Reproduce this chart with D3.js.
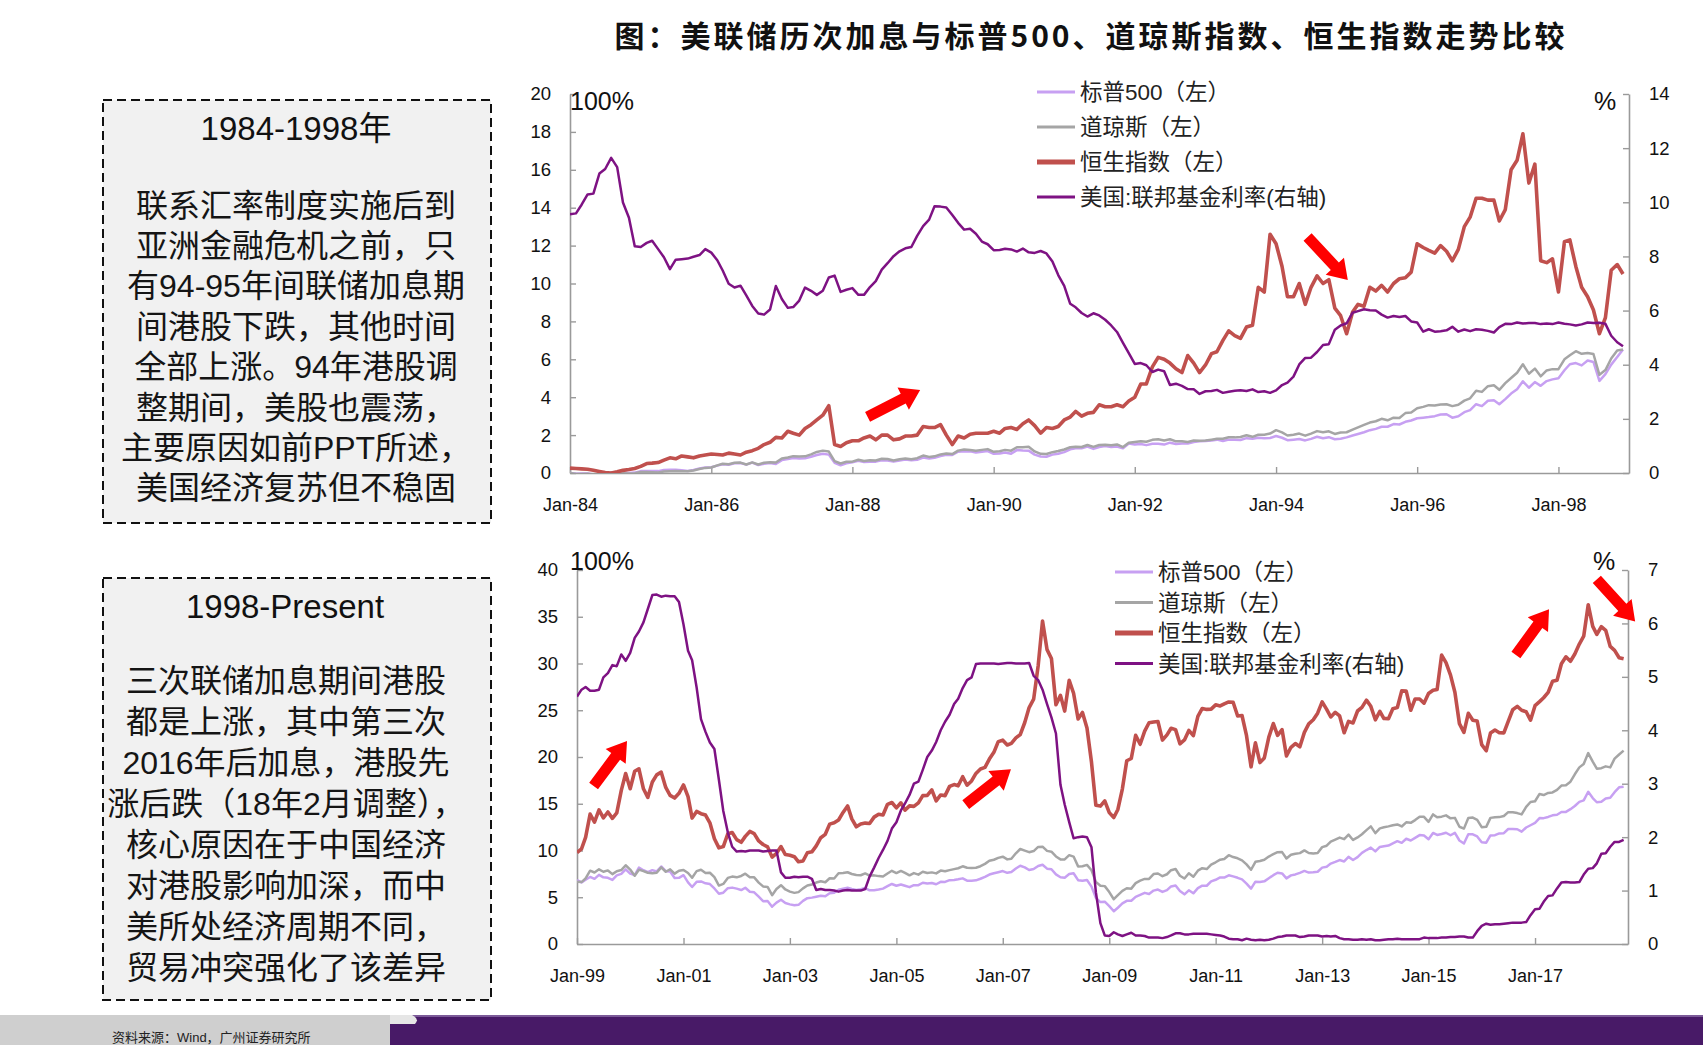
<!DOCTYPE html>
<html><head><meta charset="utf-8">
<script src="https://cdn.jsdelivr.net/npm/d3@7"></script>
<style>body{margin:0;background:#fff}svg{display:block}</style>
</head><body>
<svg id="c" width="1703" height="1045"></svg>
<script>
// ---------------- DATA ----------------
const chartTitle = "图：美联储历次加息与标普500、道琼斯指数、恒生指数走势比较";
const seriesNames = ["标普500（左）", "道琼斯（左）", "恒生指数（左）", "美国:联邦基金利率(右轴)"];
const unitLeft = "100%";
const unitRight = "%";

const topStart = "1984-01", topEnd = "1999-01";
const botStart = "1999-01", botEnd = "2018-10";

const topXLabels = ["Jan-84","Jan-86","Jan-88","Jan-90","Jan-92","Jan-94","Jan-96","Jan-98"];
const botXLabels = ["Jan-99","Jan-01","Jan-03","Jan-05","Jan-07","Jan-09","Jan-11","Jan-13","Jan-15","Jan-17"];
const topLeftTicks = [0,2,4,6,8,10,12,14,16,18,20];
const topRightTicks = [0,2,4,6,8,10,12,14];
const botLeftTicks = [0,5,10,15,20,25,30,35,40];
const botRightTicks = [0,1,2,3,4,5,6,7];

// 1984-01 .. 1998-12 monthly
const topSP = [
0,-0.04,-0.03,-0.02,-0.08,-0.06,-0.08,0.02,0.02,0.02,0.00,0.02,
0.10,0.11,0.11,0.10,0.16,0.17,0.17,0.15,0.11,0.16,0.24,0.29,
0.30,0.39,0.46,0.44,0.51,0.53,0.44,0.55,0.42,0.49,0.53,0.48,
0.68,0.74,0.79,0.76,0.78,0.86,0.95,1.02,0.97,0.54,0.41,0.51,
0.57,0.64,0.58,0.60,0.60,0.67,0.66,0.60,0.66,0.71,0.67,0.70,
0.82,0.77,0.80,0.89,0.96,0.95,1.12,1.15,1.14,1.08,1.12,1.16,
1.01,1.03,1.08,1.02,1.21,1.19,1.18,0.97,0.87,0.86,0.97,1.02,
1.10,1.25,1.30,1.30,1.39,1.27,1.37,1.42,1.37,1.40,1.30,1.55,
1.50,1.53,1.47,1.54,1.54,1.50,1.60,1.53,1.56,1.56,1.64,1.67,
1.69,1.71,1.76,1.69,1.76,1.76,1.74,1.84,1.81,1.86,1.83,1.85,
1.95,1.86,1.73,1.76,1.79,1.72,1.80,1.91,1.83,1.89,1.78,1.81,
1.88,1.98,2.06,2.15,2.26,2.33,2.44,2.44,2.58,2.56,2.70,2.77,
2.89,2.92,2.95,3.00,3.09,3.10,2.92,2.99,3.21,3.32,3.63,3.53,
3.81,3.84,3.63,3.90,4.19,4.42,4.84,4.50,4.80,4.60,4.85,4.94,
5.00,5.42,5.74,5.80,5.68,5.94,5.86,4.86,5.22,5.72,6.12,6.52];
const topDJ = [
0.00,-0.05,-0.05,-0.04,-0.09,-0.07,-0.09,0.00,-0.01,-0.01,-0.03,-0.01,
0.05,0.05,0.04,0.03,0.08,0.09,0.10,0.09,0.09,0.13,0.21,0.27,
0.29,0.40,0.49,0.46,0.54,0.55,0.45,0.56,0.45,0.54,0.57,0.55,
0.77,0.82,0.89,0.87,0.88,0.98,1.11,1.18,1.13,0.63,0.50,0.59,
0.60,0.70,0.63,0.67,0.66,0.75,0.74,0.66,0.73,0.76,0.73,0.78,
0.92,0.85,0.88,0.98,1.03,1.00,1.18,1.24,1.21,1.17,1.22,1.26,
1.12,1.15,1.22,1.18,1.36,1.36,1.38,1.14,1.01,1.00,1.10,1.16,
1.24,1.36,1.39,1.37,1.48,1.38,1.48,1.49,1.47,1.51,1.37,1.60,
1.64,1.68,1.65,1.75,1.78,1.72,1.78,1.67,1.68,1.64,1.71,1.70,
1.71,1.76,1.81,1.81,1.89,1.88,1.90,1.99,1.91,2.02,2.02,2.08,
2.26,2.14,1.98,2.02,2.08,1.97,2.08,2.21,2.15,2.20,2.06,2.14,
2.15,2.29,2.41,2.54,2.66,2.73,2.86,2.78,2.92,2.90,3.16,3.19,
3.42,3.49,3.58,3.56,3.62,3.63,3.53,3.60,3.82,3.94,4.34,4.28,
4.58,4.63,4.39,4.74,5.01,5.29,5.74,5.24,5.51,5.10,5.41,5.48,
5.48,6.00,6.21,6.43,6.29,6.33,6.28,5.18,5.43,6.04,6.47,6.52];
const topHSI = [
0.26,0.24,0.22,0.20,0.14,0.08,0.02,0.00,0.06,0.14,0.18,0.24,
0.35,0.50,0.52,0.55,0.68,0.80,0.75,0.90,0.85,0.80,0.90,0.95,
1.00,0.98,0.95,1.05,1.00,0.95,1.10,1.18,1.30,1.50,1.62,1.88,
1.85,2.20,2.10,2.00,2.35,2.55,2.80,3.05,3.55,1.50,1.40,1.60,
1.70,1.70,1.85,1.95,1.75,2.00,2.00,1.75,1.80,1.95,1.95,2.00,
2.45,2.40,2.40,2.55,2.00,1.50,1.95,1.85,2.05,2.10,2.10,2.10,
2.20,2.10,2.35,2.40,2.30,2.60,2.80,2.50,2.10,2.40,2.35,2.45,
2.80,2.95,3.25,3.00,3.15,3.20,3.60,3.50,3.50,3.60,3.50,3.80,
4.00,4.70,4.70,5.60,6.10,6.00,5.80,5.50,5.30,6.20,5.80,5.30,
5.70,6.30,6.40,7.00,7.50,7.25,7.10,7.70,7.80,9.80,9.55,12.60,
12.10,10.90,9.30,9.30,10.00,8.90,9.80,10.40,10.00,10.20,8.70,8.30,
7.35,8.50,8.90,8.80,9.80,9.60,9.90,9.55,10.00,10.25,10.30,10.60,
12.10,11.90,11.75,11.60,12.00,11.70,11.20,11.80,13.00,13.50,14.50,14.50,
14.40,14.40,13.30,13.90,16.00,16.50,17.90,15.30,16.30,11.20,11.10,11.30,
9.55,12.20,12.30,10.90,9.80,9.30,8.60,7.35,8.20,10.70,11.00,10.50];
const topFed = [
9.56,9.59,9.91,10.29,10.32,11.06,11.23,11.64,11.30,9.99,9.43,8.38,
8.35,8.50,8.58,8.27,7.97,7.53,7.88,7.90,7.92,7.99,8.05,8.27,
8.14,7.86,7.48,6.99,6.85,6.92,6.56,6.17,5.89,5.85,6.04,6.91,
6.43,6.10,6.13,6.37,6.85,6.73,6.58,6.73,7.22,7.29,6.69,6.77,
6.83,6.58,6.58,6.87,7.09,7.51,7.75,8.01,8.19,8.30,8.35,8.76,
9.12,9.36,9.85,9.84,9.81,9.53,9.24,8.99,9.02,8.84,8.55,8.45,
8.23,8.24,8.28,8.26,8.18,8.29,8.15,8.13,8.20,8.11,7.81,7.31,
6.91,6.25,6.12,5.91,5.78,5.90,5.82,5.66,5.45,5.21,4.81,4.43,
4.03,4.06,3.98,3.73,3.82,3.76,3.25,3.30,3.22,3.10,3.09,2.92,
3.02,3.03,3.07,2.96,3.00,3.04,3.06,3.03,3.09,2.99,3.02,2.96,
3.05,3.25,3.34,3.56,4.01,4.25,4.26,4.47,4.73,4.76,5.29,5.45,
5.53,5.92,5.98,6.05,6.01,6.00,5.85,5.74,5.80,5.76,5.80,5.60,
5.56,5.22,5.31,5.22,5.24,5.27,5.40,5.22,5.30,5.24,5.31,5.29,
5.25,5.19,5.39,5.51,5.50,5.56,5.52,5.54,5.54,5.50,5.52,5.50,
5.56,5.51,5.49,5.45,5.49,5.56,5.54,5.55,5.51,5.07,4.83,4.68];

// 1999-01 .. 2018-09 monthly
const botSP = [
6.83,6.58,6.87,7.17,6.97,7.40,7.13,7.08,6.85,7.34,7.50,7.99,
7.53,7.36,8.17,7.89,7.69,7.90,7.76,8.29,7.79,7.75,7.05,7.08,
7.36,6.59,6.10,6.65,6.69,6.49,6.41,5.94,5.37,5.49,5.97,6.03,
5.92,5.77,6.02,5.59,5.53,5.06,4.58,4.61,3.99,4.42,4.73,4.38,
4.24,4.15,4.19,4.61,4.90,4.96,5.06,5.17,5.10,5.43,5.48,5.80,
5.92,6.01,5.89,5.78,5.86,5.98,5.74,5.76,5.82,5.92,6.18,6.42,
6.23,6.37,6.23,6.08,6.29,6.29,6.55,6.47,6.52,6.39,6.65,6.64,
6.83,6.84,6.92,7.02,6.77,6.77,6.81,6.98,7.18,7.43,7.57,7.68,
7.80,7.61,7.70,8.07,8.37,8.20,7.91,8.02,8.34,8.48,8.06,7.99,
7.44,7.14,7.09,7.48,7.57,6.83,6.76,6.85,6.14,4.93,4.48,4.53,
4.05,3.50,3.88,4.34,4.62,4.63,5.04,5.25,5.47,5.34,5.71,5.82,
5.57,5.76,6.16,6.26,5.67,5.31,5.74,5.42,5.98,6.24,6.23,6.70,
6.87,7.12,7.11,7.35,7.23,7.08,6.91,6.46,5.92,6.67,6.63,6.70,
7.03,7.36,7.62,7.55,7.02,7.34,7.44,7.61,7.82,7.64,7.67,7.73,
8.17,8.27,8.60,8.78,8.98,8.83,9.32,8.99,9.29,9.75,10.05,10.31,
9.91,10.38,10.46,10.53,10.77,11.00,10.82,11.26,11.07,11.35,11.65,11.60,
11.21,11.88,11.66,11.76,11.90,11.63,11.88,11.07,10.75,11.73,11.73,11.51,
10.87,10.83,11.61,11.64,11.83,11.85,12.30,12.29,12.27,12.01,12.46,12.70,
12.95,13.47,13.46,13.59,13.76,13.83,14.12,14.13,14.42,14.76,15.20,15.36,
16.28,15.61,15.16,15.21,15.56,15.64,16.24,16.76,16.83];
const botDJ = [
6.67,6.62,7.02,7.84,7.65,7.99,7.73,7.87,7.47,7.79,7.91,8.42,
7.96,7.30,7.95,7.79,7.62,7.56,7.62,8.19,7.73,7.99,7.53,7.84,
7.92,7.60,7.09,7.79,7.94,7.60,7.62,7.15,6.25,6.43,7.07,7.21,
7.13,7.28,7.52,7.15,7.13,6.57,6.16,6.10,5.22,5.88,6.29,5.83,
5.60,5.47,5.55,5.95,6.25,6.36,6.57,6.71,6.60,7.03,7.01,7.56,
7.59,7.67,7.49,7.38,7.35,7.55,7.31,7.34,7.26,7.22,7.54,7.83,
7.59,7.82,7.61,7.35,7.58,7.42,7.72,7.59,7.66,7.55,7.85,7.78,
7.90,8.01,8.10,8.31,8.15,8.14,8.16,8.32,8.57,8.90,9.01,9.21,
9.34,9.05,9.12,9.70,10.16,9.99,9.82,9.94,10.38,10.41,9.96,9.87,
9.36,9.05,9.05,9.50,9.35,8.30,8.32,8.46,7.89,6.64,6.23,6.19,
5.55,4.79,5.23,5.69,5.96,5.92,6.51,6.78,6.96,6.96,7.48,7.54,
7.25,7.46,7.89,8.02,7.30,7.01,7.57,7.20,7.84,8.11,8.02,8.49,
8.74,9.02,9.09,9.50,9.30,9.17,8.95,8.51,7.94,8.79,8.87,9.01,
9.35,9.61,9.82,9.83,9.15,9.55,9.66,9.72,10.01,9.73,9.67,9.74,
10.36,10.51,10.94,11.16,11.38,11.21,11.70,11.13,11.40,11.74,12.18,12.58,
11.86,12.37,12.48,12.58,12.70,12.79,12.57,13.01,12.96,13.25,13.61,13.60,
13.06,13.86,13.56,13.62,13.76,13.44,13.49,12.54,12.34,13.47,13.52,13.28,
12.49,12.53,13.49,13.56,13.57,13.69,14.10,14.08,14.00,13.86,14.67,15.19,
15.27,16.05,15.93,16.16,16.21,16.49,16.94,16.98,17.36,18.15,18.89,19.25,
20.42,19.51,18.75,18.80,19.00,18.89,19.82,20.27,20.68];
const botHSI = [
9.78,10.18,11.41,13.89,13.04,14.34,13.48,14.12,13.44,14.03,16.43,18.23,
16.61,18.47,18.74,16.60,15.68,17.32,18.09,18.38,16.74,15.89,15.61,16.12,
17.01,15.77,13.47,14.18,13.94,13.79,12.96,11.26,10.28,10.42,11.79,11.92,
11.16,10.88,11.51,12.04,11.81,11.02,10.64,10.39,9.29,9.70,10.42,9.57,
9.50,9.34,8.79,8.88,9.76,9.86,10.49,11.37,11.73,12.82,12.96,13.26,
14.07,14.77,13.38,12.54,12.83,12.93,12.88,13.57,13.88,13.80,14.94,15.13,
14.56,15.10,14.32,14.77,14.72,15.10,15.87,15.90,16.49,15.31,15.94,15.87,
16.86,17.05,16.92,17.89,16.98,17.44,18.24,18.72,18.89,19.78,20.50,21.64,
21.80,21.28,21.45,22.04,22.40,23.69,25.29,26.19,29.77,34.55,31.48,30.53,
25.59,26.59,24.91,28.20,26.82,24.06,24.77,23.11,19.43,14.84,14.75,15.31,
14.05,13.53,14.39,16.60,19.60,19.84,22.33,21.36,22.76,23.66,23.74,23.80,
21.81,22.37,23.08,22.93,21.41,21.82,22.84,22.28,24.35,25.19,25.09,25.12,
25.58,25.46,25.68,25.89,25.85,24.39,24.44,22.28,18.95,21.52,19.40,19.90,
22.12,23.58,22.31,22.92,20.12,21.04,21.44,21.09,22.63,23.54,23.98,24.69,
25.90,25.10,24.28,24.78,24.39,22.59,23.81,23.64,24.92,25.31,26.08,25.42,
23.98,24.89,24.11,24.10,25.17,25.29,27.07,27.05,25.00,26.21,26.20,25.76,
26.79,27.14,27.23,30.90,30.09,28.76,26.93,23.57,22.63,24.67,23.94,23.85,
21.32,20.67,22.56,22.89,22.60,22.58,23.82,25.05,25.41,25.00,24.84,23.94,
25.49,25.92,26.34,26.91,28.09,28.21,29.98,30.71,30.24,31.02,32.08,32.92,
36.29,33.97,33.12,33.93,33.55,31.83,31.41,30.62,30.51];
const botFed = [
4.63,4.76,4.81,4.74,4.74,4.76,4.99,5.07,5.22,5.20,5.42,5.30,
5.45,5.73,5.85,6.02,6.27,6.53,6.54,6.50,6.52,6.51,6.51,6.40,
5.98,5.49,5.31,4.80,4.21,3.97,3.77,3.65,3.07,2.49,2.09,1.82,
1.73,1.74,1.73,1.75,1.75,1.75,1.73,1.74,1.75,1.75,1.34,1.24,
1.24,1.26,1.25,1.26,1.26,1.22,1.01,1.03,1.01,1.01,1.00,0.98,
1.00,1.01,1.00,1.00,1.00,1.03,1.26,1.43,1.61,1.76,1.93,2.16,
2.28,2.50,2.63,2.79,3.00,3.04,3.26,3.50,3.62,3.78,4.00,4.16,
4.29,4.49,4.59,4.79,4.94,4.99,5.24,5.25,5.25,5.25,5.25,5.24,
5.25,5.26,5.26,5.25,5.25,5.25,5.26,5.02,4.94,4.76,4.49,4.24,
3.94,2.98,2.61,2.28,1.98,2.00,2.01,2.00,1.81,0.97,0.39,0.16,
0.15,0.22,0.18,0.15,0.18,0.21,0.16,0.16,0.15,0.12,0.12,0.12,
0.11,0.13,0.16,0.20,0.20,0.18,0.18,0.19,0.19,0.19,0.19,0.18,
0.17,0.16,0.14,0.10,0.09,0.09,0.07,0.10,0.08,0.07,0.08,0.07,
0.08,0.10,0.13,0.14,0.16,0.16,0.16,0.13,0.14,0.16,0.16,0.16,
0.14,0.15,0.14,0.15,0.11,0.09,0.09,0.08,0.08,0.09,0.08,0.09,
0.07,0.07,0.08,0.09,0.09,0.10,0.09,0.09,0.09,0.09,0.09,0.12,
0.11,0.11,0.11,0.12,0.12,0.13,0.13,0.14,0.14,0.12,0.12,0.24,
0.34,0.38,0.36,0.37,0.37,0.38,0.39,0.40,0.40,0.40,0.41,0.54,
0.65,0.66,0.79,0.90,0.91,1.04,1.15,1.16,1.15,1.15,1.16,1.30,
1.41,1.42,1.51,1.69,1.70,1.82,1.91,1.91,1.95];

// annotation arrows in data units: [month index, left-axis value] tail -> head
const topArrows = [[50.6, 2.96, 59.5, 4.38], [125.4, 12.45, 132.2, 10.18]];
const botArrows = [[3.8, 16.9, 11.3, 21.7], [87.7, 14.9, 97.9, 18.7], [211.7, 30.9, 219.2, 35.8], [230, 39.0, 238.6, 34.5]];

const boxTopTitle = "1984-1998年";
const boxTopLines = ["联系汇率制度实施后到","亚洲金融危机之前，只","有94-95年间联储加息期","间港股下跌，其他时间","全部上涨。94年港股调","整期间，美股也震荡，","主要原因如前PPT所述，","美国经济复苏但不稳固"];
const boxBotTitle = "1998-Present";
const boxBotLines = ["三次联储加息期间港股","都是上涨，其中第三次","2016年后加息，港股先","涨后跌（18年2月调整），","核心原因在于中国经济","对港股影响加深，而中","美所处经济周期不同，","贸易冲突强化了该差异"];
const footerText = "资料来源：Wind，广州证券研究所";

// ---------------- DRAWING ----------------
const svg = d3.select("#c");
const LAT = "'Liberation Sans', Arial, 'Noto Sans CJK SC', sans-serif";
const CJK = "'Noto Sans CJK SC', sans-serif";
const colors = ["#c7a0f2", "#a5a5a5", "#c0504d", "#7e1283"];
const widths = [2.5, 2.5, 3.6, 2.5];
const parseYM = d3.timeParse("%Y-%m");
const parseLbl = d3.timeParse("%b-%y");

svg.append("rect").attr("width", 1703).attr("height", 1045).attr("fill", "#fff");

// title
svg.append("text").attr("x", 1091).attr("y", 47).attr("text-anchor", "middle")
  .attr("font-family", CJK).attr("font-weight", 700).attr("font-size", 30)
  .attr("letter-spacing", 3).attr("fill", "#111").text(chartTitle);

// text boxes
function drawBox(x, y, w, h, title, titleCx, titleCy, lines, cx, ly0, lstep) {
  const g = svg.append("g");
  g.append("rect").attr("x", x).attr("y", y).attr("width", w).attr("height", h)
    .attr("fill", "#f1f1f1").attr("stroke", "#111").attr("stroke-width", 2)
    .attr("stroke-dasharray", "9,5");
  g.append("text").attr("x", titleCx).attr("y", titleCy).attr("dy", "0.36em")
    .attr("text-anchor", "middle").attr("font-family", LAT).attr("font-size", 33)
    .attr("fill", "#111").text(title);
  lines.forEach((t, i) => {
    g.append("text").attr("x", cx).attr("y", ly0 + i * lstep).attr("dy", "0.36em")
      .attr("text-anchor", "middle").attr("font-family", LAT).attr("font-size", 32)
      .attr("fill", "#151515").text(t);
  });
}
drawBox(103, 100, 388, 423, boxTopTitle, 296, 128, boxTopLines, 296, 205, 40.4);
drawBox(103, 578, 388, 422, boxBotTitle, 285, 606, boxBotLines, 286, 680, 41.1);

function arrowPoly(tx, ty, hx, hy) {
  const dx = hx - tx, dy = hy - ty, L = Math.hypot(dx, dy);
  const ux = dx / L, uy = dy / L, nx = -uy, ny = ux;
  const w = 5.5, hw = 12.5, hl = 19;
  const bx = hx - ux * hl, by = hy - uy * hl;
  return [[tx + nx * w, ty + ny * w], [bx + nx * w, by + ny * w], [bx + nx * hw, by + ny * hw],
          [hx, hy], [bx - nx * hw, by - ny * hw], [bx - nx * w, by - ny * w], [tx - nx * w, ty - ny * w]];
}

function drawPanel(cfg) {
  const start = parseYM(cfg.start), end = parseYM(cfg.end);
  const x = d3.scaleTime().domain([start, end]).range([cfg.x0, cfg.x1]);
  const yL = d3.scaleLinear().domain([0, cfg.leftMax]).range([cfg.y1, cfg.y0]);
  const yR = d3.scaleLinear().domain([0, cfg.rightMax]).range([cfg.y1, cfg.y0]);
  const md = i => d3.timeMonth.offset(start, i);
  const mx = f => { const i = Math.floor(f); return x(md(i)) + (f - i) * (x(md(i + 1)) - x(md(i))); };
  const g = svg.append("g");
  const clipId = "clip" + cfg.id;
  svg.append("clipPath").attr("id", clipId).append("rect")
    .attr("x", cfg.x0).attr("y", cfg.y0 - 2).attr("width", cfg.x1 - cfg.x0 + 2).attr("height", cfg.y1 - cfg.y0 + 2);

  // axes
  const axisStyle = sel => {
    sel.select(".domain").attr("stroke", "#9a9a9a").attr("stroke-width", 1.6);
    sel.selectAll(".tick line").attr("stroke", "#9a9a9a").attr("stroke-width", 1.4);
    sel.selectAll(".tick text").attr("fill", "#111").attr("font-family", LAT).attr("font-size", 18.5);
  };
  const tickDates = cfg.xLabels.map(s => parseLbl(s));
  g.append("g").attr("transform", `translate(0,${cfg.y1})`)
    .call(d3.axisBottom(x).tickValues(tickDates).tickFormat((d, i) => cfg.xLabels[i])
      .tickSizeInner(-6).tickSizeOuter(0).tickPadding(25))
    .call(axisStyle).call(s => s.selectAll(".tick text").attr("font-size", 18));
  g.append("g").attr("transform", `translate(${cfg.x0},0)`)
    .call(d3.axisLeft(yL).tickValues(cfg.leftTicks).tickFormat(d3.format("d"))
      .tickSizeInner(-6).tickSizeOuter(0).tickPadding(19))
    .call(axisStyle);
  g.append("g").attr("transform", `translate(${cfg.x1},0)`)
    .call(d3.axisRight(yR).tickValues(cfg.rightTicks).tickFormat(d3.format("d"))
      .tickSizeInner(-6).tickSizeOuter(0).tickPadding(20))
    .call(axisStyle);

  // lines
  const lg = g.append("g").attr("clip-path", `url(#${clipId})`);
  const leftSeries = [cfg.sp, cfg.dj, cfg.hsi];
  leftSeries.forEach((arr, k) => {
    lg.append("path").datum(arr)
      .attr("d", d3.line().x((d, i) => x(md(i))).y(d => yL(d)))
      .attr("fill", "none").attr("stroke", colors[k]).attr("stroke-width", widths[k])
      .attr("stroke-linejoin", "round");
  });
  lg.append("path").datum(cfg.fed)
    .attr("d", d3.line().x((d, i) => x(md(i))).y(d => yR(d)))
    .attr("fill", "none").attr("stroke", colors[3]).attr("stroke-width", widths[3])
    .attr("stroke-linejoin", "round");

  // unit labels
  g.append("text").attr("x", cfg.x0 + cfg.unitDx).attr("y", cfg.unitY).attr("font-family", LAT)
    .attr("font-size", 25).attr("fill", "#111").text(unitLeft);
  g.append("text").attr("x", cfg.x1 - 24).attr("y", cfg.unitY).attr("text-anchor", "middle")
    .attr("font-family", LAT).attr("font-size", 25).attr("fill", "#111").text(unitRight);

  // legend
  seriesNames.forEach((nm, k) => {
    const yy = cfg.legY + k * cfg.legStep;
    g.append("line").attr("x1", cfg.legX).attr("x2", cfg.legX + 38).attr("y1", yy).attr("y2", yy)
      .attr("stroke", colors[k]).attr("stroke-width", k === 2 ? 5 : 3.2);
    g.append("text").attr("x", cfg.legX + 43).attr("y", yy).attr("dy", "0.36em")
      .attr("font-family", LAT).attr("font-size", 22.5).attr("fill", "#222").text(nm);
  });

  // arrows
  cfg.arrows.forEach(a => {
    const pts = arrowPoly(mx(a[0]), yL(a[1]), mx(a[2]), yL(a[3]));
    g.append("polygon").attr("points", pts.map(p => p.join(",")).join(" ")).attr("fill", "#ff0000");
  });
}

drawPanel({id: "t", start: topStart, end: topEnd, x0: 570, x1: 1629, y0: 94, y1: 473,
  leftMax: 20, rightMax: 14, leftTicks: topLeftTicks, rightTicks: topRightTicks, xLabels: topXLabels,
  sp: topSP, dj: topDJ, hsi: topHSI, fed: topFed, unitY: 110, unitDx: 0,
  legX: 1037, legY: 92, legStep: 35, arrows: topArrows});
drawPanel({id: "b", start: botStart, end: botEnd, x0: 577, x1: 1628, y0: 570, y1: 944,
  leftMax: 40, rightMax: 7, leftTicks: botLeftTicks, rightTicks: botRightTicks, xLabels: botXLabels,
  sp: botSP, dj: botDJ, hsi: botHSI, fed: botFed, unitY: 570, unitDx: -7,
  legX: 1115, legY: 572, legStep: 30.5, arrows: botArrows});

// footer band
svg.append("rect").attr("x", 0).attr("y", 1015).attr("width", 392).attr("height", 30).attr("fill", "#cfcfcf");
svg.append("rect").attr("x", 390).attr("y", 1015).attr("width", 1313).attr("height", 30).attr("fill", "#481a67");
svg.append("rect").attr("x", 390).attr("y", 1015).attr("width", 1313).attr("height", 2).attr("fill", "#7b5a98");
svg.append("path").attr("d", "M390,1015 L412,1015 Q420,1019 415,1024 L390,1024 Z").attr("fill", "#e6e6e6");
svg.append("text").attr("x", 112).attr("y", 1042).attr("font-family", LAT).attr("font-size", 13)
  .attr("fill", "#222").text(footerText);
</script>
</body></html>
